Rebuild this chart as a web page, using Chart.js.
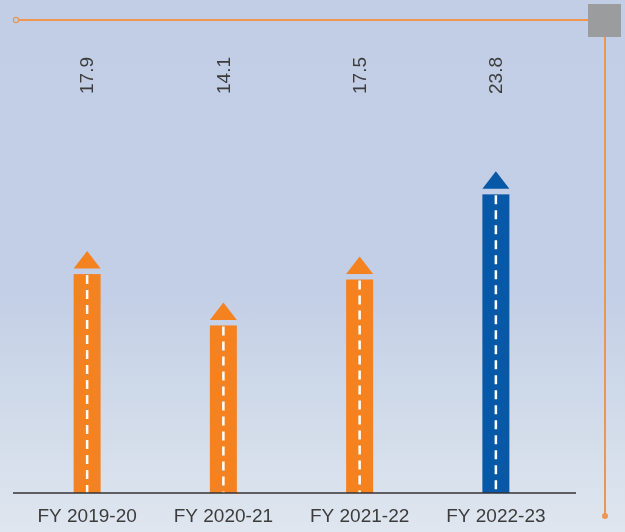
<!DOCTYPE html>
<html>
<head>
<meta charset="utf-8">
<script src="https://cdn.jsdelivr.net/npm/chart.js@4.4.1/dist/chart.umd.min.js"></script>
<style>
  html, body { margin: 0; padding: 0; }
  body {
    width: 625px; height: 532px; overflow: hidden;
    background: linear-gradient(to bottom, #c2cee6 0%, #c3cfe6 55%, #d2dcea 80%, #dfe6ef 100%);
  }
  canvas { display: block; }
</style>
</head>
<body>
<canvas id="c" width="625" height="532"></canvas>
<script>
const categories = ['FY 2019-20', 'FY 2020-21', 'FY 2021-22', 'FY 2022-23'];
const values = [17.9, 14.1, 17.5, 23.8];
const valueLabels = ['17.9', '14.1', '17.5', '23.8'];
const barColors = ['#f58220', '#f58220', '#f58220', '#0758a7'];

const FONT = "'Liberation Sans', Arial, Helvetica, sans-serif";

const decor = {
  id: 'decor',
  beforeDraw(chart) {
    const ctx = chart.ctx;
    ctx.save();
    ctx.strokeStyle = '#ef9550';
    ctx.lineWidth = 2;
    ctx.beginPath();
    ctx.moveTo(18.5, 20);
    ctx.lineTo(590, 20);
    ctx.stroke();
    ctx.beginPath();
    ctx.arc(16, 20, 2.6, 0, Math.PI * 2);
    ctx.fillStyle = '#c2cee6';
    ctx.fill();
    ctx.lineWidth = 1.3;
    ctx.stroke();
    ctx.lineWidth = 2;
    ctx.beginPath();
    ctx.moveTo(605, 37);
    ctx.lineTo(605, 516);
    ctx.stroke();
    ctx.beginPath();
    ctx.arc(605, 516, 3, 0, Math.PI * 2);
    ctx.fillStyle = '#ef9550';
    ctx.fill();
    ctx.fillStyle = '#9a9c9d';
    ctx.fillRect(588, 4, 33, 33);
    ctx.restore();
  },
  afterDatasetsDraw(chart) {
    const ctx = chart.ctx;
    const meta = chart.getDatasetMeta(0);
    const area = chart.chartArea;
    ctx.save();
    meta.data.forEach((el, i) => {
      const x = el.x, tip = el.y, base = el.base, w = el.width;
      ctx.fillStyle = barColors[i];
      ctx.beginPath();
      ctx.moveTo(x - w / 2, tip + 17.5);
      ctx.lineTo(x + w / 2, tip + 17.5);
      ctx.lineTo(x, tip);
      ctx.closePath();
      ctx.fill();
      const top = tip + 23;
      ctx.fillRect(x - w / 2, top, w, base - top);
      ctx.strokeStyle = '#ffffff';
      ctx.lineWidth = 2.5;
      ctx.setLineDash([9, 6]);
      ctx.beginPath();
      ctx.moveTo(x, top + 1);
      ctx.lineTo(x, base);
      ctx.stroke();
      ctx.setLineDash([]);
      ctx.save();
      ctx.translate(x + 1, 75.5);
      ctx.rotate(-Math.PI / 2);
      ctx.fillStyle = '#3c3c3c';
      ctx.font = '19px ' + FONT;
      ctx.textAlign = 'center';
      ctx.textBaseline = 'middle';
      ctx.fillText(valueLabels[i], 0, 0);
      ctx.restore();
    });
    ctx.strokeStyle = '#333333';
    ctx.lineWidth = 1.5;
    ctx.beginPath();
    ctx.moveTo(13, area.bottom);
    ctx.lineTo(576, area.bottom);
    ctx.stroke();
    ctx.restore();
  }
};

new Chart(document.getElementById('c'), {
  type: 'bar',
  data: {
    labels: categories,
    datasets: [{
      data: values,
      backgroundColor: 'rgba(0,0,0,0)',
      borderWidth: 0,
      barThickness: 27
    }]
  },
  options: {
    responsive: false,
    animation: false,
    layout: { padding: { left: 19, right: 61, top: 20, bottom: 0 } },
    plugins: { legend: { display: false }, tooltip: { enabled: false } },
    scales: {
      y: { display: false, min: 0, max: 35 },
      x: {
        grid: { display: false, drawTicks: false },
        border: { display: false },
        ticks: { color: '#3c3c3c', font: { size: 19, family: FONT }, padding: 12, maxRotation: 0 },
        afterFit(s) { s.height = 39; }
      }
    }
  },
  plugins: [decor]
});
</script>
</body>
</html>
